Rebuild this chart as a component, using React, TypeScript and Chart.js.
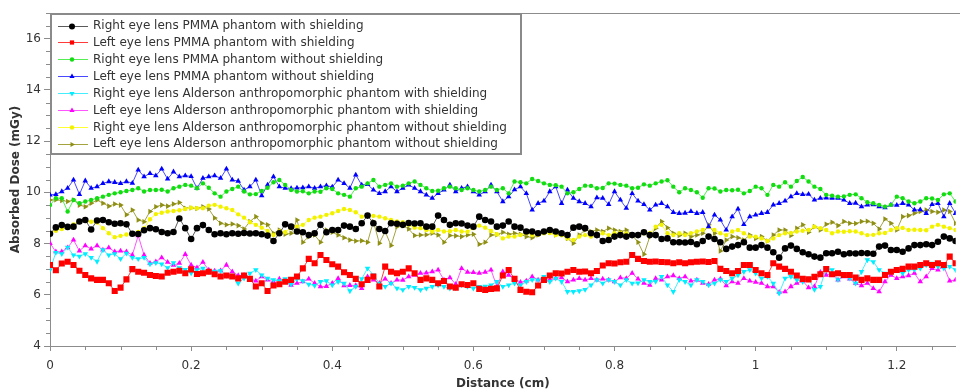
import React, { useEffect, useRef } from 'react';
import { Chart, registerables } from 'chart.js';

Chart.register(...registerables);

// Distance (cm)
const distances = [
  0, 0.0083, 0.0167, 0.025, 0.0333, 0.0417, 0.05, 0.0583, 0.0667, 0.075, 0.0833, 0.0917,
  0.1, 0.1083, 0.1167, 0.125, 0.1333, 0.1417, 0.15, 0.1583, 0.1667, 0.175, 0.1833, 0.1917,
  0.2, 0.2083, 0.2167, 0.225, 0.2333, 0.2417, 0.25, 0.2583, 0.2667, 0.275, 0.2833, 0.2917,
  0.3, 0.3083, 0.3167, 0.325, 0.3333, 0.3417, 0.35, 0.3583, 0.3667, 0.375, 0.3833, 0.3917,
  0.4, 0.4083, 0.4167, 0.425, 0.4333, 0.4417, 0.45, 0.4583, 0.4667, 0.475, 0.4833, 0.4917,
  0.5, 0.5083, 0.5167, 0.525, 0.5333, 0.5417, 0.55, 0.5583, 0.5667, 0.575, 0.5833, 0.5917,
  0.6, 0.6083, 0.6167, 0.625, 0.6333, 0.6417, 0.65, 0.6583, 0.6667, 0.675, 0.6833, 0.6917,
  0.7, 0.7083, 0.7167, 0.725, 0.7333, 0.7417, 0.75, 0.7583, 0.7667, 0.775, 0.7833, 0.7917,
  0.8, 0.8083, 0.8167, 0.825, 0.8333, 0.8417, 0.85, 0.8583, 0.8667, 0.875, 0.8833, 0.8917,
  0.9, 0.9083, 0.9167, 0.925, 0.9333, 0.9417, 0.95, 0.9583, 0.9667, 0.975, 0.9833, 0.9917,
  1.0, 1.0083, 1.0167, 1.025, 1.0333, 1.0417, 1.05, 1.0583, 1.0667, 1.075, 1.0833, 1.0917,
  1.1, 1.1083, 1.1167, 1.125, 1.1333, 1.1417, 1.15, 1.1583, 1.1667, 1.175, 1.1833, 1.1917,
  1.2, 1.2083, 1.2167, 1.225, 1.2333, 1.2417, 1.25, 1.2583, 1.2667, 1.275, 1.2833,
];

// Absorbed dose (mGy)
const rightPmmaShield = [
  8.38, 8.63, 8.72, 8.65, 8.66, 8.86, 8.92, 8.55, 8.9, 8.92, 8.83, 8.77, 8.79, 8.75, 8.38, 8.37, 8.52, 8.6, 8.56, 8.45, 8.4, 8.45, 8.98, 8.6, 8.18, 8.6, 8.72,
  8.53, 8.36, 8.4, 8.36, 8.4, 8.38, 8.41, 8.39, 8.4, 8.36, 8.31, 8.1, 8.4, 8.75, 8.66, 8.47, 8.44, 8.33, 8.4, 8.73, 8.44, 8.53, 8.53, 8.7, 8.66, 8.57, 8.79,
  9.09, 8.79, 8.57, 8.49, 8.79, 8.77, 8.73, 8.8, 8.78, 8.79, 8.66, 8.66, 9.09, 8.92, 8.73, 8.79, 8.78, 8.7, 8.66, 9.05, 8.92, 8.86, 8.66, 8.7, 8.86, 8.66,
  8.62, 8.47, 8.47, 8.4, 8.47, 8.53, 8.47, 8.4, 8.33, 8.62, 8.66, 8.6, 8.4, 8.33, 8.1, 8.14, 8.27, 8.33, 8.27, 8.33, 8.33, 8.44, 8.33, 8.33, 8.18, 8.2, 8.05,
  8.05, 8.04, 8.06, 7.97, 8.1, 8.27, 8.18, 8.05, 7.79, 7.88, 7.94, 8.05, 7.84, 7.84, 7.94, 7.84, 7.66, 7.45, 7.81, 7.92, 7.79, 7.66, 7.58, 7.49, 7.45, 7.62, 7.62,
  7.68, 7.58, 7.62, 7.61, 7.63, 7.62, 7.6, 7.88, 7.92, 7.75, 7.75, 7.68, 7.81, 7.94, 7.94, 7.97, 7.94, 8.07, 8.27, 8.2, 8.1,
];
const leftPmmaShield = [
  7.16, 6.96, 7.22, 7.29, 7.16, 6.94, 6.77, 6.64, 6.58, 6.58, 6.45, 6.15, 6.28, 6.6, 7.0, 6.9, 6.86, 6.77, 6.73, 6.71, 6.86, 6.9, 6.94, 6.84, 6.99, 6.81, 6.84,
  6.9, 6.8, 6.71, 6.75, 6.71, 6.64, 6.75, 6.62, 6.32, 6.45, 6.15, 6.36, 6.41, 6.51, 6.58, 6.71, 7.03, 7.4, 7.23, 7.55, 7.36, 7.19, 7.1, 6.88, 6.77, 6.62, 6.41,
  6.58, 6.71, 6.32, 7.1, 6.9, 6.84, 6.9, 7.03, 6.84, 6.58, 6.64, 6.58, 6.45, 6.54, 6.32, 6.28, 6.41, 6.38, 6.45, 6.23, 6.19, 6.23, 6.25, 6.75, 6.97, 6.62,
  6.19, 6.12, 6.1, 6.36, 6.58, 6.75, 6.84, 6.83, 6.9, 6.97, 6.9, 6.91, 6.84, 6.93, 7.14, 7.23, 7.22, 7.27, 7.29, 7.55, 7.4, 7.32, 7.29, 7.3, 7.28, 7.27, 7.23,
  7.27, 7.23, 7.27, 7.29, 7.3, 7.28, 7.32, 7.01, 6.93, 6.84, 6.93, 7.16, 7.16, 6.97, 6.84, 6.77, 7.23, 7.1, 7.01, 6.9, 6.75, 6.62, 6.6, 6.7, 6.8, 7.0, 6.8,
  6.84, 6.77, 6.77, 6.67, 6.58, 6.64, 6.58, 6.58, 6.77, 6.9, 6.97, 7.01, 7.1, 7.1, 7.16, 7.23, 7.16, 7.23, 7.16, 7.49, 7.23,
];
const rightPmmaNoShield = [
  9.5, 9.77, 9.77, 9.25, 9.7, 9.57, 9.64, 9.7, 9.77, 9.83, 9.9, 9.96, 10.0, 10.05, 10.09, 10.16, 10.03, 10.09, 10.09, 10.1, 10.03, 10.16, 10.22, 10.29, 10.26, 10.16, 10.35,
  10.18, 9.96, 9.83, 10.03, 10.13, 10.22, 10.03, 9.92, 9.93, 10.05, 10.18, 10.39, 10.48, 10.29, 10.09, 10.03, 10.04, 9.96, 10.03, 10.02, 10.16, 10.13, 9.96, 9.9, 9.83, 10.16, 10.22,
  10.35, 10.48, 10.22, 10.29, 10.35, 10.22, 10.26, 10.35, 10.42, 10.29, 10.16, 10.05, 10.06, 10.16, 10.22, 10.16, 10.09, 10.16, 10.09, 10.03, 10.09, 10.22, 10.09, 10.16, 9.96, 10.42,
  10.39, 10.35, 10.52, 10.44, 10.35, 10.29, 10.28, 10.22, 9.96, 10.0, 10.13, 10.26, 10.25, 10.16, 10.17, 10.35, 10.34, 10.29, 10.26, 10.16, 10.18, 10.31, 10.26, 10.35, 10.42, 10.47, 10.22,
  10.0, 10.16, 10.09, 10.0, 9.79, 10.16, 10.15, 10.03, 10.09, 10.08, 10.1, 9.96, 10.05, 10.22, 10.16, 9.9, 10.29, 10.22, 10.39, 10.22, 10.44, 10.6, 10.42, 10.22, 10.13, 9.9, 9.87,
  9.83, 9.84, 9.9, 9.92, 9.77, 9.61, 9.57, 9.51, 9.44, 9.51, 9.83, 9.77, 9.64, 9.57, 9.64, 9.77, 9.76, 9.7, 9.92, 9.96, 9.64,
];
const leftPmmaNoShield = [
  9.9, 9.92, 10.03, 10.16, 10.48, 9.92, 10.45, 10.16, 10.22, 10.35, 10.42, 10.39, 10.35, 10.42, 10.36, 10.87, 10.61, 10.74, 10.65, 10.91, 10.52, 10.8, 10.61, 10.65, 10.62, 10.16, 10.55,
  10.61, 10.65, 10.55, 10.91, 10.48, 10.44, 10.09, 10.22, 10.48, 9.87, 10.29, 10.61, 10.22, 10.16, 10.15, 10.17, 10.18, 10.22, 10.16, 10.22, 10.26, 10.21, 10.48, 10.35, 10.16, 10.68, 10.29,
  10.31, 10.09, 9.96, 10.03, 10.22, 10.03, 10.16, 10.29, 10.16, 10.03, 9.9, 9.77, 9.96, 10.09, 10.29, 10.03, 10.16, 10.22, 10.03, 9.9, 10.03, 10.29, 10.03, 9.64, 9.83, 10.1,
  10.22, 9.96, 9.31, 9.57, 9.66, 10.03, 10.22, 9.57, 10.09, 9.77, 9.64, 9.57, 9.44, 9.79, 9.77, 9.53, 10.03, 9.7, 9.38, 9.96, 9.66, 9.53, 9.31, 9.51, 9.57, 9.44, 9.22,
  9.18, 9.19, 9.25, 9.18, 9.22, 8.66, 9.12, 8.92, 8.53, 9.05, 9.35, 8.75, 9.05, 9.12, 9.18, 9.22, 9.51, 9.57, 9.66, 9.83, 9.96, 9.92, 9.93, 9.7, 9.77, 9.78, 9.77,
  9.77, 9.7, 9.57, 9.58, 9.44, 9.51, 9.52, 9.44, 9.4, 9.51, 9.5, 9.57, 9.51, 9.31, 9.32, 9.18, 9.53, 9.57, 9.05, 9.57, 9.18,
];
const rightAldShield = [
  6.97, 7.65, 7.6, 7.85, 7.55, 7.5, 7.6, 7.45, 7.3, 7.75, 7.55, 7.6, 7.4, 7.62, 7.45, 7.4, 7.45, 7.2, 7.25, 7.2, 7.05, 7.25, 7.05, 6.98, 6.85, 6.97, 7.03,
  6.9, 6.91, 6.93, 6.75, 6.76, 6.45, 6.64, 6.84, 6.97, 6.77, 6.64, 6.58, 6.54, 6.62, 6.41, 6.62, 6.54, 6.41, 6.36, 6.51, 6.54, 6.38, 6.51, 6.45, 6.15, 6.32, 6.62,
  7.03, 6.77, 6.45, 6.32, 6.45, 6.25, 6.19, 6.32, 6.28, 6.19, 6.25, 6.32, 6.38, 6.32, 6.25, 6.26, 6.38, 6.32, 6.25, 6.32, 6.33, 6.38, 6.51, 6.32, 6.38, 6.45,
  6.38, 6.51, 6.58, 6.57, 6.71, 6.51, 6.64, 6.51, 6.12, 6.12, 6.15, 6.2, 6.38, 6.58, 6.45, 6.58, 6.51, 6.38, 6.58, 6.45, 6.46, 6.58, 6.51, 6.52, 6.71, 6.38, 6.12,
  6.58, 6.51, 6.38, 6.58, 6.51, 6.38, 6.45, 6.58, 6.51, 6.64, 6.77, 6.9, 6.97, 6.84, 6.64, 6.71, 6.45, 6.06, 6.64, 6.71, 6.58, 6.51, 6.64, 6.2, 6.32, 7.03, 6.97,
  6.58, 6.77, 6.64, 6.45, 6.9, 7.36, 7.29, 6.97, 6.84, 6.9, 6.97, 6.84, 6.97, 6.98, 7.03, 7.16, 7.23, 7.1, 7.03, 7.1, 6.97,
];
const leftAldShield = [
  8.01, 7.68, 7.68, 7.84, 8.14, 7.71, 7.92, 7.79, 7.92, 7.75, 7.84, 7.68, 7.71, 7.68, 7.55, 8.31, 7.55, 7.23, 7.29, 7.45, 7.27, 7.16, 7.23, 7.58, 7.16, 7.06, 7.27,
  6.97, 6.93, 6.94, 7.16, 6.9, 6.75, 6.76, 6.62, 6.54, 6.71, 6.58, 6.51, 6.62, 6.49, 6.38, 6.45, 6.51, 6.62, 6.45, 6.32, 6.33, 6.45, 6.64, 6.36, 6.37, 6.36, 6.25,
  6.71, 6.58, 6.45, 6.62, 6.45, 6.58, 6.57, 6.71, 6.77, 6.84, 6.85, 6.9, 6.97, 6.58, 6.67, 6.41, 7.03, 6.88, 6.87, 6.84, 6.88, 6.97, 6.32, 6.9, 6.77, 6.62,
  6.49, 6.54, 6.71, 6.58, 6.64, 6.58, 6.64, 6.67, 6.51, 6.58, 6.64, 6.58, 6.64, 6.58, 6.62, 6.58, 6.51, 6.67, 6.64, 6.84, 6.62, 6.45, 6.38, 6.64, 6.58, 6.71, 6.75,
  6.64, 6.71, 6.54, 6.58, 6.45, 6.41, 6.58, 6.62, 6.36, 6.51, 6.45, 6.64, 6.54, 6.49, 6.45, 6.32, 6.32, 6.1, 6.12, 6.32, 6.45, 6.54, 6.28, 6.32, 6.88, 6.77, 6.84,
  6.58, 6.71, 6.62, 6.45, 6.36, 6.45, 6.25, 6.12, 6.51, 6.77, 6.64, 6.71, 6.75, 6.84, 6.51, 6.71, 7.03, 6.97, 7.1, 6.54, 6.58,
];
const rightAldNoShield = [
  8.41, 8.5, 8.57, 8.62, 8.75, 8.88, 8.9, 8.85, 8.82, 8.6, 8.4, 8.25, 8.3, 8.35, 8.4, 8.45, 8.6, 8.95, 9.15, 9.2, 9.25, 9.27, 9.3, 9.35, 9.4, 9.38, 9.38,
  9.48, 9.51, 9.44, 9.38, 9.31, 9.14, 9.01, 8.83, 8.73, 8.62, 8.49, 8.33, 8.47, 8.44, 8.62, 8.66, 8.73, 8.92, 9.01, 9.05, 9.12, 9.18, 9.27, 9.35, 9.31, 9.22, 9.05,
  9.12, 9.08, 9.05, 8.99, 8.92, 8.86, 8.83, 8.73, 8.62, 8.6, 8.53, 8.47, 8.53, 8.47, 8.48, 8.53, 8.47, 8.46, 8.6, 8.7, 8.62, 8.49, 8.36, 8.2, 8.27, 8.27,
  8.33, 8.4, 8.33, 8.34, 8.4, 8.41, 8.33, 8.32, 8.2, 8.14, 8.27, 8.33, 8.27, 8.33, 8.4, 8.33, 8.4, 8.41, 8.39, 8.33, 8.34, 8.4, 8.4, 8.66, 8.73, 8.4, 8.33,
  8.4, 8.33, 8.4, 8.47, 8.53, 8.66, 8.53, 8.4, 8.33, 8.47, 8.53, 8.4, 8.27, 8.27, 8.2, 8.1, 8.2, 8.33, 8.4, 8.41, 8.47, 8.5, 8.53, 8.66, 8.6, 8.53, 8.4,
  8.47, 8.46, 8.48, 8.47, 8.4, 8.33, 8.34, 8.4, 8.41, 8.53, 8.6, 8.61, 8.53, 8.54, 8.53, 8.52, 8.66, 8.73, 8.66, 8.6, 8.53,
];
const leftAldNoShield = [
  9.7, 9.71, 9.68, 9.64, 9.7, 9.5, 9.44, 9.57, 9.7, 9.57, 9.46, 9.54, 9.5, 9.12, 9.31, 8.92, 8.85, 9.25, 9.44, 9.5, 9.46, 9.54, 9.6, 9.38, 9.39, 9.37, 9.44,
  9.35, 9.0, 8.79, 8.73, 8.76, 8.7, 8.57, 8.86, 9.05, 8.79, 8.73, 8.4, 8.53, 8.36, 8.4, 8.92, 8.05, 8.27, 8.33, 8.05, 8.53, 8.44, 8.33, 8.23, 8.14, 8.1, 8.11,
  8.05, 8.86, 8.01, 8.47, 7.92, 8.66, 8.7, 8.57, 8.31, 8.33, 8.34, 8.4, 8.33, 8.05, 8.31, 8.3, 8.27, 8.33, 8.36, 7.97, 8.05, 8.33, 8.34, 8.44, 8.36, 8.4,
  8.36, 8.27, 8.23, 8.33, 8.47, 8.44, 8.33, 8.36, 8.2, 8.01, 8.33, 8.53, 8.47, 8.53, 8.47, 8.6, 8.53, 8.47, 8.53, 8.33, 8.05, 7.58, 8.27, 8.6, 8.86, 8.62, 8.4,
  8.31, 8.4, 8.27, 8.33, 8.4, 8.73, 8.4, 7.71, 8.14, 8.27, 8.23, 8.14, 8.33, 8.2, 8.27, 8.1, 8.33, 8.53, 8.53, 8.31, 8.6, 8.73, 8.44, 8.66, 8.53, 8.75, 8.83,
  8.7, 8.86, 8.79, 8.78, 8.86, 8.87, 8.79, 8.57, 8.96, 8.79, 8.53, 9.05, 9.09, 9.18, 9.25, 9.31, 9.25, 9.22, 9.31, 9.25, 8.79,
];

const seriesLabels = [
  'Right eye lens PMMA phantom with shielding',
  'Left eye lens PMMA phantom with shielding',
  'Right eye lens PMMA phantom without shielding',
  'Left eye lens PMMA phantom without shielding',
  'Right eye lens Alderson anthropomorphic phantom with shielding',
  'Left eye lens Alderson anthropomorphic phantom with shielding',
  'Right eye lens Alderson anthropomorphic phantom without shielding',
  'Left eye lens Alderson anthropomorphic phantom without shielding',
];

const xTickValues = [0, 0.2, 0.4, 0.6, 0.8, 1, 1.2];
const xTickLabels = ['0', '0.2', '0.4', '0.6', '0.8', '1', '1.2'];
const yTickValues = [4, 6, 8, 10, 12, 14, 16];
const yTickLabels = ['4', '6', '8', '10', '12', '14', '16'];

const FONT = '"DejaVu Sans", Verdana, sans-serif';
const AXIS = '#8c8c8c';
const TEXT = '#333333';

const styles = [
  { point: '#000000', line: '#5a5a5a', shape: 'circle', r: 3.3, rot: 0 },
  { point: '#ff0000', line: '#ff3a3a', shape: 'rect', r: 4.3, rot: 0 },
  { point: '#11dd11', line: '#55ee55', shape: 'circle', r: 2.2, rot: 0 },
  { point: '#0000ff', line: '#4848ff', shape: 'triangle', r: 3.2, rot: 0 },
  { point: '#00eeff', line: '#44eeff', shape: 'triangle', r: 3.2, rot: 180 },
  { point: '#ff00ff', line: '#ff55ff', shape: 'triangle', r: 3.2, rot: 0 },
  { point: '#f2f200', line: '#ffff33', shape: 'circle', r: 2.2, rot: 0 },
  { point: '#8f8f14', line: '#a3a340', shape: 'triangle', r: 3.2, rot: 90 },
];

const seriesValues = [
  rightPmmaShield, leftPmmaShield, rightPmmaNoShield, leftPmmaNoShield,
  rightAldShield, leftAldShield, rightAldNoShield, leftAldNoShield,
];

function drawMarker(ctx: CanvasRenderingContext2D, shape: string, rot: number, r: number, x: number, y: number) {
  ctx.beginPath();
  if (shape === 'circle') {
    ctx.arc(x, y, r, 0, Math.PI * 2);
  } else if (shape === 'rect') {
    const s = r * Math.SQRT1_2;
    ctx.rect(x - s, y - s, 2 * s, 2 * s);
  } else {
    let rad = (rot * Math.PI) / 180;
    ctx.moveTo(x + Math.sin(rad) * r, y - Math.cos(rad) * r);
    rad += (2 * Math.PI) / 3;
    ctx.lineTo(x + Math.sin(rad) * r, y - Math.cos(rad) * r);
    rad += (2 * Math.PI) / 3;
    ctx.lineTo(x + Math.sin(rad) * r, y - Math.cos(rad) * r);
    ctx.closePath();
  }
  ctx.fill();
}

const framePlugin = {
  id: 'frameAndLegend',
  beforeDatasetsDraw(chart: any) {
    const { ctx, chartArea: a, scales } = chart;
    ctx.save();
    ctx.strokeStyle = AXIS;
    ctx.lineWidth = 1;
    ctx.beginPath();
    ctx.moveTo(a.left, a.top + 0.5);
    ctx.lineTo(a.right + 5, a.top + 0.5);
    const xs = scales.x;
    for (let k = 1; k * 0.05 <= xs.max; k++) {
      if (k % 4 === 0) continue;
      const px = Math.round(xs.getPixelForValue(k * 0.05)) + 0.5;
      ctx.moveTo(px, a.bottom);
      ctx.lineTo(px, a.bottom + 4);
    }
    const ys = scales.y;
    for (let k = 1; ys.min + k * 0.5 <= ys.max; k++) {
      if (k % 4 === 0) continue;
      const py = Math.round(ys.getPixelForValue(ys.min + k * 0.5)) + 0.5;
      ctx.moveTo(a.left - 4, py);
      ctx.lineTo(a.left, py);
    }
    ctx.stroke();
    ctx.restore();
  },
  afterDatasetsDraw(chart: any) {
    const { ctx, chartArea: a } = chart;
    const bx = a.left, by = a.top, bw = 472, bh = 142;
    ctx.save();
    ctx.fillStyle = '#ffffff';
    ctx.fillRect(bx, by, bw, bh);
    ctx.strokeStyle = '#8a8a8a';
    ctx.lineWidth = 2;
    ctx.strokeRect(bx + 1, by + 1, bw - 2, bh - 2);
    ctx.font = `12px ${FONT}`;
    ctx.textBaseline = 'middle';
    ctx.textAlign = 'left';
    chart.data.datasets.forEach((ds: any, i: number) => {
      const st = styles[i];
      const cy = by + 12.5 + i * 16.9;
      ctx.strokeStyle = st.line;
      ctx.lineWidth = 1;
      ctx.beginPath();
      ctx.moveTo(bx + 8, Math.round(cy) + 0.5);
      ctx.lineTo(bx + 38, Math.round(cy) + 0.5);
      ctx.stroke();
      ctx.fillStyle = st.point;
      drawMarker(ctx, st.shape, st.rot, Math.min(st.r, 3), bx + 22, Math.round(cy) + 0.5);
      ctx.fillStyle = TEXT;
      ctx.fillText(ds.label, bx + 43, cy + 0.5);
    });
    ctx.restore();
  },
};

export default function App() {
  const canvasRef = useRef<HTMLCanvasElement | null>(null);

  useEffect(() => {
    document.body.style.margin = '0';
    const canvas = canvasRef.current;
    if (!canvas) return;
    const datasets = seriesValues.map((vals, i) => ({
      label: seriesLabels[i],
      data: distances.map((d, j) => ({ x: d, y: vals[j] })),
      borderColor: styles[i].line,
      backgroundColor: styles[i].point,
      borderWidth: 1,
      pointStyle: styles[i].shape,
      pointRotation: styles[i].rot,
      pointRadius: styles[i].r,
      pointBackgroundColor: styles[i].point,
      pointBorderColor: styles[i].point,
      pointBorderWidth: 0,
      tension: 0,
      fill: false,
    }));

    const chart = new Chart(canvas, {
      type: 'line',
      data: { datasets },
      plugins: [framePlugin],
      options: {
        animation: false,
        responsive: false,
        devicePixelRatio: 1,
        layout: { padding: { top: 13, left: 0, right: 0, bottom: 0 } },
        plugins: { legend: { display: false }, tooltip: { enabled: false } },
        scales: {
          x: {
            type: 'linear',
            min: 0,
            max: 1.2835,
            afterBuildTicks: (s: any) => { s.ticks = xTickValues.map((v) => ({ value: v })); },
            afterFit: (s: any) => { s.height = 46; },
            ticks: {
              callback: (_v: any, idx: number) => xTickLabels[idx],
              font: { family: FONT, size: 12 },
              color: TEXT,
              padding: 8,
              maxRotation: 0,
            },
            grid: { drawOnChartArea: false, drawTicks: true, tickLength: 5, color: AXIS },
            border: { display: true, color: AXIS, width: 1 },
            title: {
              display: true,
              text: 'Distance (cm)',
              font: { family: FONT, size: 12, weight: 'bold' },
              color: TEXT,
              padding: { top: 0, bottom: 1 },
            },
          },
          y: {
            type: 'linear',
            min: 4,
            max: 17,
            afterBuildTicks: (s: any) => { s.ticks = yTickValues.map((v) => ({ value: v })); },
            afterFit: (s: any) => { s.width = 50; },
            ticks: {
              callback: (_v: any, idx: number) => yTickLabels[idx],
              font: { family: FONT, size: 12 },
              color: TEXT,
              padding: 3,
            },
            grid: { drawOnChartArea: false, drawTicks: true, tickLength: 6, color: AXIS },
            border: { display: true, color: AXIS, width: 1 },
            title: {
              display: true,
              text: 'Absorbed Dose (mGy)',
              font: { family: FONT, size: 12, weight: 'bold' },
              color: TEXT,
              padding: { top: 9, bottom: 0 },
            },
          },
        },
      } as any,
    });
    return () => chart.destroy();
  }, []);

  return (
    <div style={{ width: 960, height: 392 }}>
      <canvas ref={canvasRef} width={960} height={392} style={{ display: 'block' }} />
    </div>
  );
}
